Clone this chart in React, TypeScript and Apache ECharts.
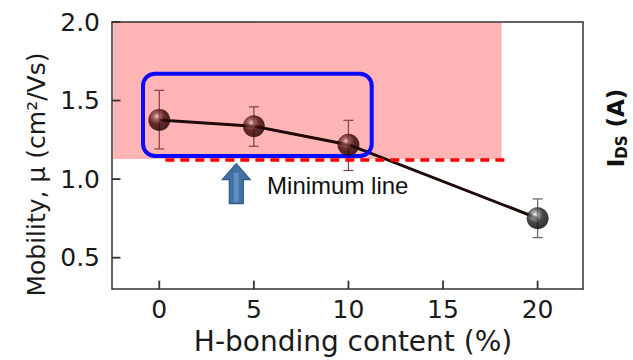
import { useEffect, useRef } from 'react';
import * as echarts from 'echarts';

// ---- data ----
const hContent = [0, 5, 10, 20];
const mobility = [1.377, 1.337, 1.219, 0.751];
const errTop = [1.565, 1.46, 1.374, 0.874];
const errBottom = [1.192, 1.209, 1.055, 0.628];
const xTicks = [0, 5, 10, 15, 20];
const yTicks = [0.5, 1.0, 1.5, 2.0];
const xRange = [-2.5, 22.4];
const yRange = [0.3, 2.0];
const pinkX = [-2.44, 18.1];
const pinkY = [1.128, 2.0];
const minLineX = [0.32, 18.3];
const minLineY = 1.123;
const boxX = [-0.86, 11.23];
const boxY = [1.147, 1.671];
const arrowTip = [4.07, 1.098];
const labelAt = [5.7, 0.962];

const FONT = 'DejaVu Sans';
const AXIS_COLOR = '#333';

function ball(black: boolean) {
  return {
    type: 'radial', x: 0.38, y: 0.34, r: 0.66,
    colorStops: black
      ? [
          { offset: 0, color: '#f2f2f2' },
          { offset: 0.22, color: '#8a8a8a' },
          { offset: 0.55, color: '#1a1a1a' },
          { offset: 1, color: '#000000' },
        ]
      : [
          { offset: 0, color: '#f3caca' },
          { offset: 0.22, color: '#925050' },
          { offset: 0.55, color: '#3c0606' },
          { offset: 1, color: '#1c0000' },
        ],
  };
}

export default function App() {
  const ref = useRef<HTMLDivElement>(null);
  useEffect(() => {
    const chart = echarts.init(ref.current!, null, { renderer: 'svg' });
    const lineStyle = { color: AXIS_COLOR, width: 1.5 };
    const option: any = {
      animation: false,
      backgroundColor: '#ffffff',
      grid: { left: 112, right: 50, top: 22, bottom: 63 },
      xAxis: [
        {
          type: 'value', min: xRange[0], max: xRange[1], position: 'bottom', z: 10,
          axisLine: { show: true, onZero: false, lineStyle },
          axisTick: { show: false },
          axisLabel: { customValues: xTicks, fontFamily: FONT, fontSize: 25, color: '#1a1a1a', margin: 8 },
          splitLine: { show: false },
          name: 'H-bonding content (%)', nameLocation: 'middle', nameGap: 30,
          nameTextStyle: { fontFamily: FONT, fontSize: 28, color: '#1a1a1a', padding: [0, 0, 0, 11] },
        },
        {
          type: 'value', min: xRange[0], max: xRange[1], position: 'top', z: 10,
          axisLine: { show: true, onZero: false, lineStyle },
          axisTick: { show: false }, axisLabel: { show: false }, splitLine: { show: false },
        },
      ],
      yAxis: [
        {
          type: 'value', min: yRange[0], max: yRange[1], position: 'left', z: 10,
          axisLine: { show: true, onZero: false, lineStyle },
          axisTick: { show: false },
          axisLabel: {
            customValues: yTicks, fontFamily: FONT, fontSize: 25, color: '#1a1a1a', margin: 12,
            formatter: (v: number) => v.toFixed(1),
          },
          splitLine: { show: false },
          name: 'Mobility, μ (cm²/Vs)', nameLocation: 'middle', nameGap: 62, nameRotate: 90,
          nameTextStyle: { fontFamily: FONT, fontSize: 25, color: '#1a1a1a', padding: [0, 38, 0, 0] },
        },
        {
          type: 'value', min: yRange[0], max: yRange[1], position: 'right', z: 10,
          axisLine: { show: true, onZero: false, lineStyle },
          axisTick: { show: false }, axisLabel: { show: false }, splitLine: { show: false },
        },
      ],
      series: [
        {
          type: 'scatter', data: [], z: 1, silent: true,
          markArea: {
            silent: true,
            itemStyle: { color: '#FFB5B5', opacity: 1 },
            data: [[{ coord: [pinkX[0], pinkY[0]] }, { coord: [pinkX[1], pinkY[1]] }]],
          },
        },
        {
          type: 'line', z: 2, symbol: 'none',
          data: hContent.map((x, i) => [x, mobility[i]]),
          lineStyle: { color: '#1e0a0a', width: 3 },
          markLine: {
            silent: true, symbol: ['none', 'none'], label: { show: false },
            lineStyle: { color: '#FF0000', width: 3.5, type: [9, 6] },
            data: [[{ coord: [minLineX[0], minLineY] }, { coord: [minLineX[1], minLineY] }]],
          },
        },
        {
          type: 'custom', z: 3, silent: true,
          data: hContent.map((x, i) => [x, errBottom[i], errTop[i], i]),
          encode: { x: 0, y: [1, 2] },
          renderItem: (params: any, api: any) => {
            const x = api.value(0);
            const lo = api.coord([x, api.value(1)]);
            const hi = api.coord([x, api.value(2)]);
            const idx = api.value(3);
            const c = idx === 3 ? '#6a6a6a' : '#8a4848';
            const st = { stroke: c, lineWidth: 1.3 };
            return {
              type: 'group',
              children: [
                { type: 'line', shape: { x1: hi[0], y1: hi[1], x2: lo[0], y2: lo[1] }, style: st },
                { type: 'line', shape: { x1: hi[0] - 5, y1: hi[1], x2: hi[0] + 5, y2: hi[1] }, style: st },
                { type: 'line', shape: { x1: lo[0] - 5, y1: lo[1], x2: lo[0] + 5, y2: lo[1] }, style: st },
              ],
            };
          },
        },
        {
          type: 'scatter', z: 5, symbolSize: 22,
          data: hContent.map((x, i) => ({
            value: [x, mobility[i]],
            itemStyle: { color: ball(i === 3) },
          })),
        },
      ],
    };
    chart.setOption(option);

    const px = (p: number[]) => chart.convertToPixel({ seriesIndex: 3 }, p) as number[];
    const b0 = px([boxX[0], boxY[1]]);
    const b1 = px([boxX[1], boxY[0]]);
    const t = px(arrowTip);
    const lab = px(labelAt);
    const tx = t[0], ty = t[1];

    // inward tick marks placed through the axes' own scales (as thin filled rects)
    const tickEls: any[] = [];
    xTicks.forEach((v) => {
      const p = px([v, yRange[0]]);
      tickEls.push({
        type: 'rect', z: 20, silent: true,
        shape: { x: p[0] - 0.9, y: p[1] - 8.5, width: 1.8, height: 8.5 },
        style: { fill: AXIS_COLOR },
      });
    });
    yTicks.forEach((v) => {
      const p = px([xRange[0], v]);
      tickEls.push({
        type: 'rect', z: 20, silent: true,
        shape: { x: p[0], y: p[1] - 0.9, width: 8.5, height: 1.8 },
        style: { fill: AXIS_COLOR },
      });
    });

    chart.setOption({
      graphic: [
        ...tickEls,
        {
          type: 'rect', z: 4,
          shape: { x: b0[0], y: b0[1], width: b1[0] - b0[0], height: b1[1] - b0[1], r: 12 },
          style: { fill: 'none', stroke: '#0a0aff', lineWidth: 4 },
        },
        {
          type: 'polygon', z: 4,
          shape: {
            points: [
              [tx, ty], [tx + 14, ty + 16], [tx + 7, ty + 16], [tx + 7, ty + 40],
              [tx - 7, ty + 40], [tx - 7, ty + 16], [tx - 14, ty + 16],
            ],
          },
          style: { fill: '#4470a2', stroke: '#2f5a8a', lineWidth: 1.2 },
        },
        {
          type: 'rect', z: 4,
          shape: { x: tx - 2.5, y: ty + 9, width: 5, height: 29 },
          style: { fill: '#5f8fc4' },
        },
        {
          type: 'text', z: 4, x: lab[0], y: lab[1],
          style: {
            text: 'Minimum line', fill: '#111', font: '24px "Liberation Sans", Arial, sans-serif',
            align: 'left', verticalAlign: 'middle',
          },
        },
        {
          type: 'text', z: 4, x: 616, y: 128, rotation: Math.PI / 2,
          style: {
            text: '{b|I}{s|DS}{b| (A)}',
            align: 'center', verticalAlign: 'middle',
            rich: {
              b: { fontFamily: FONT, fontWeight: 'bold', fontSize: 23, lineHeight: 26, fill: '#111' },
              s: { fontFamily: FONT, fontWeight: 'bold', fontSize: 15, lineHeight: 14, verticalAlign: 'bottom', fill: '#111' },
            },
          },
        },
      ],
    });
    return () => chart.dispose();
  }, []);
  return (
    <div
      ref={ref}
      style={{ position: 'fixed', left: 0, top: 0, width: 633, height: 360 }}
    />
  );
}
